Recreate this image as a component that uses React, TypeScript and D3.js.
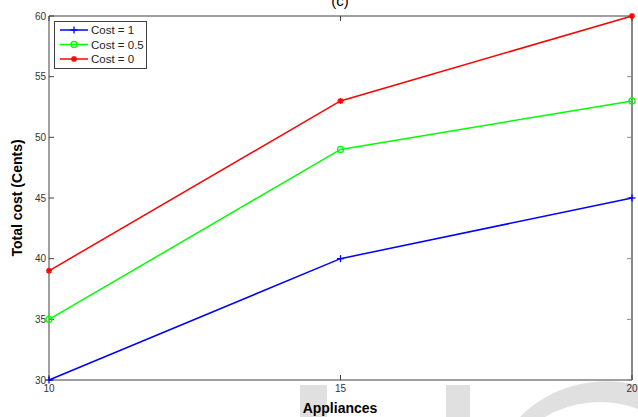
import React from "react";
import * as d3 from "d3";

const appliances = [10, 15, 20];
const costOne = [30, 40, 45];
const costHalf = [35, 49, 53];
const costZero = [39, 53, 60];
const yTicks = [30, 35, 40, 45, 50, 55, 60];
const xTicks = [10, 15, 20];

type Series = { name: string; values: number[]; color: string; marker: "plus" | "circle" | "star" };

const series: Series[] = [
  { name: "Cost = 1", values: costOne, color: "#0000ff", marker: "plus" },
  { name: "Cost = 0.5", values: costHalf, color: "#00ff00", marker: "circle" },
  { name: "Cost = 0", values: costZero, color: "#ff0000", marker: "star" },
];

const W = 638;
const H = 417;
const L = 49;
const R = 632;
const T = 16;
const B = 380;

function Marker({ kind, x, y, color }: { kind: Series["marker"]; x: number; y: number; color: string }) {
  if (kind === "plus") {
    return (
      <g stroke={color} strokeWidth={1.3}>
        <line x1={x - 3.5} x2={x + 3.5} y1={y} y2={y} />
        <line x1={x} x2={x} y1={y - 3.5} y2={y + 3.5} />
      </g>
    );
  }
  if (kind === "circle") {
    return <circle cx={x} cy={y} r={3} fill="none" stroke={color} strokeWidth={1.3} />;
  }
  return (
    <g stroke={color} strokeWidth={1.5}>
      <line x1={x - 3} x2={x + 3} y1={y} y2={y} />
      <line x1={x} x2={x} y1={y - 3} y2={y + 3} />
      <line x1={x - 2.2} x2={x + 2.2} y1={y - 2.2} y2={y + 2.2} />
      <line x1={x - 2.2} x2={x + 2.2} y1={y + 2.2} y2={y - 2.2} />
    </g>
  );
}

export default function App() {
  const x = d3.scaleLinear().domain([10, 20]).range([L, R]);
  const y = d3.scaleLinear().domain([30, 60]).range([B, T]);
  const line = d3
    .line<number>()
    .x((_, i) => x(appliances[i]))
    .y((d) => y(d));

  const font = "'Liberation Sans', Arial, sans-serif";
  const axisColor = "#404040";

  return (
    <svg
      width={W}
      height={H}
      style={{ position: "absolute", left: 0, top: 0, background: "#fff" }}
      fontFamily={font}
    >
      {/* faint background glyphs */}
      <g fill="#e0e0e0">
        <rect x={300} y={385} width={27} height={32} />
        <rect x={446} y={385} width={24} height={32} />
        <path d="M 520 417 A 118 110 0 0 1 638 385 L 638 409 A 100 92 0 0 0 545 417 Z" />
      </g>

      <text x={340} y={6} textAnchor="middle" fontSize={15} fill="#000">(c)</text>

      {/* frame */}
      <line x1={L} x2={R} y1={T} y2={T} stroke={axisColor} strokeWidth={1} />
      <line x1={L} x2={R} y1={B} y2={B} stroke={axisColor} strokeWidth={1} />
      <line x1={L} x2={L} y1={T} y2={B} stroke={axisColor} strokeWidth={1} />
      <line x1={R} x2={R} y1={T} y2={B} stroke="#888" strokeWidth={2} />

      {/* y ticks */}
      {yTicks.map((t) => (
        <g key={"y" + t}>
          <line x1={L} x2={L + 5} y1={y(t)} y2={y(t)} stroke={axisColor} />
          <line x1={R - 5} x2={R} y1={y(t)} y2={y(t)} stroke="#888" />
          <text x={L - 3} y={y(t)} dy="0.35em" textAnchor="end" fontSize={10} fill="#333">
            {t}
          </text>
        </g>
      ))}

      {/* x ticks */}
      {xTicks.map((t) => (
        <g key={"x" + t}>
          <line x1={x(t)} x2={x(t)} y1={B} y2={B - 5} stroke={axisColor} />
          <line x1={x(t)} x2={x(t)} y1={T} y2={T + 5} stroke={axisColor} />
          <text x={x(t)} y={B + 12} textAnchor="middle" fontSize={10} fill="#333">
            {t}
          </text>
        </g>
      ))}

      <text x={340} y={413} textAnchor="middle" fontSize={14} fontWeight="bold" fill="#000">
        Appliances
      </text>
      <text
        transform={`translate(22, ${(T + B) / 2}) rotate(-90)`}
        textAnchor="middle"
        fontSize={14}
        fontWeight="bold"
        fill="#000"
      >
        Total cost (Cents)
      </text>

      {/* series */}
      {series.map((s) => (
        <g key={s.name}>
          <path d={line(s.values) || ""} fill="none" stroke={s.color} strokeWidth={1.5} />
          {s.values.map((v, i) => (
            <Marker key={i} kind={s.marker} x={x(appliances[i])} y={y(v)} color={s.color} />
          ))}
        </g>
      ))}

      {/* legend */}
      <g>
        <rect x={54.5} y={21.5} width={92} height={47} fill="#fff" stroke={axisColor} strokeWidth={1} />
        {series.map((s, i) => {
          const ly = 30 + i * 14.5;
          return (
            <g key={"lg" + s.name}>
              <line x1={60} x2={88} y1={ly} y2={ly} stroke={s.color} strokeWidth={1.5} />
              <Marker kind={s.marker} x={74} y={ly} color={s.color} />
              <text x={91} y={ly} dy="0.35em" fontSize={11.5} fill="#222">
                {s.name}
              </text>
            </g>
          );
        })}
      </g>
    </svg>
  );
}
